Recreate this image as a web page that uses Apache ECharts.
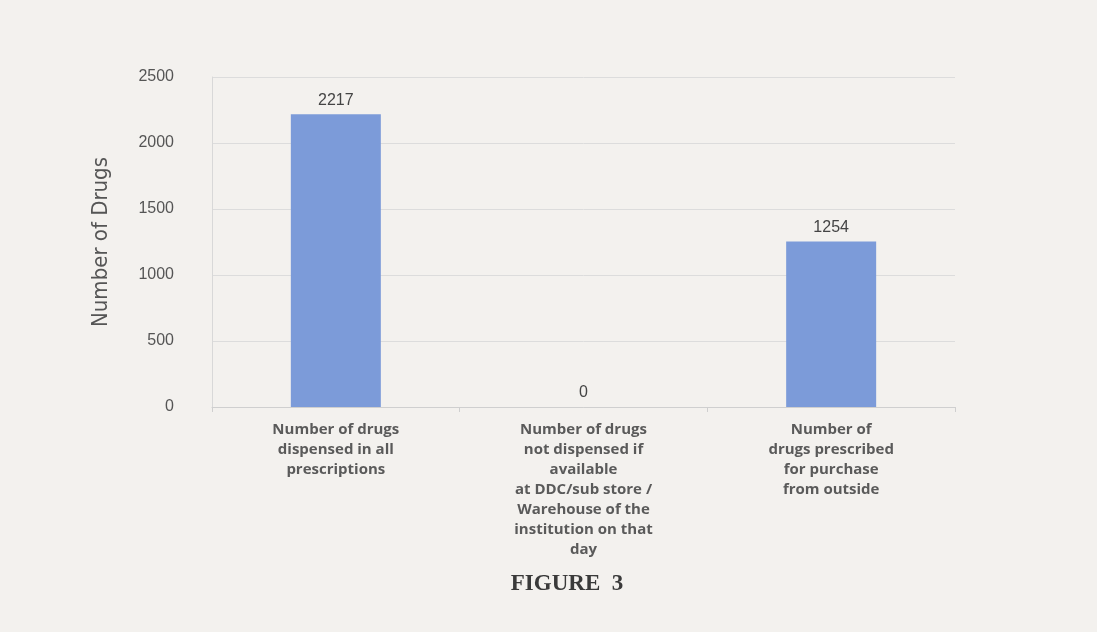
<!DOCTYPE html>
<html>
<head>
<meta charset="utf-8">
<script src="https://cdn.jsdelivr.net/npm/echarts@6/dist/echarts.min.js"></script>
<style>
html,body{margin:0;padding:0;background:#f3f1ee;}
#c{width:1097px;height:632px;}
</style>
</head>
<body>
<div id="c"></div>
<script>
const categories = [
  "Number of drugs\ndispensed in all\nprescriptions",
  "Number of drugs\nnot dispensed if\navailable\nat DDC/sub store /\nWarehouse of the\ninstitution on that\nday",
  "Number of\ndrugs prescribed\nfor purchase\nfrom outside"
];
const values = [2217, 0, 1254];
const yTicks = [0, 500, 1000, 1500, 2000, 2500];

const chart = echarts.init(document.getElementById('c'));
chart.setOption({
  backgroundColor: '#f3f1ee',
  animation: false,
  title: {
    text: 'FIGURE  3',
    left: 562, top: 568, textAlign: 'center',
    textStyle: {fontFamily: 'Liberation Serif', fontWeight: 'bold', fontSize: 23, color: '#3a3a3a'}
  },
  grid: {left: 212, right: 142, top: 77, bottom: 225},
  xAxis: {
    type: 'category',
    data: categories,
    axisLine: {lineStyle: {color: '#cfcfcf'}},
    axisTick: {show: true, lineStyle: {color: '#cfcfcf'}, length: 5},
    axisLabel: {
      interval: 0, margin: 13,
      fontFamily: 'Open Sans', fontWeight: 'bold', fontSize: 15, lineHeight: 20,
      color: '#5a5a5a'
    }
  },
  yAxis: {
    type: 'value',
    min: yTicks[0], max: yTicks[yTicks.length - 1], interval: 500,
    name: 'Number of Drugs',
    nameLocation: 'middle', nameGap: 100, nameRotate: 90,
    nameTextStyle: {fontFamily: 'DejaVu Sans Condensed', fontSize: 22, color: '#555'},
    axisLine: {show: true, lineStyle: {color: '#d8d8d8'}},
    axisTick: {show: false},
    axisLabel: {fontFamily: 'Liberation Sans', fontSize: 16, color: '#555', margin: 38,
      formatter: v => String(v)},
    splitLine: {lineStyle: {color: '#dcdcdc'}}
  },
  series: [{
    type: 'bar',
    data: values,
    barWidth: 90,
    itemStyle: {color: '#7c9bd9'},
    label: {
      show: true, position: 'top', distance: 6,
      fontFamily: 'Liberation Sans', fontSize: 16, color: '#444'
    }
  }]
});
</script>
</body>
</html>
